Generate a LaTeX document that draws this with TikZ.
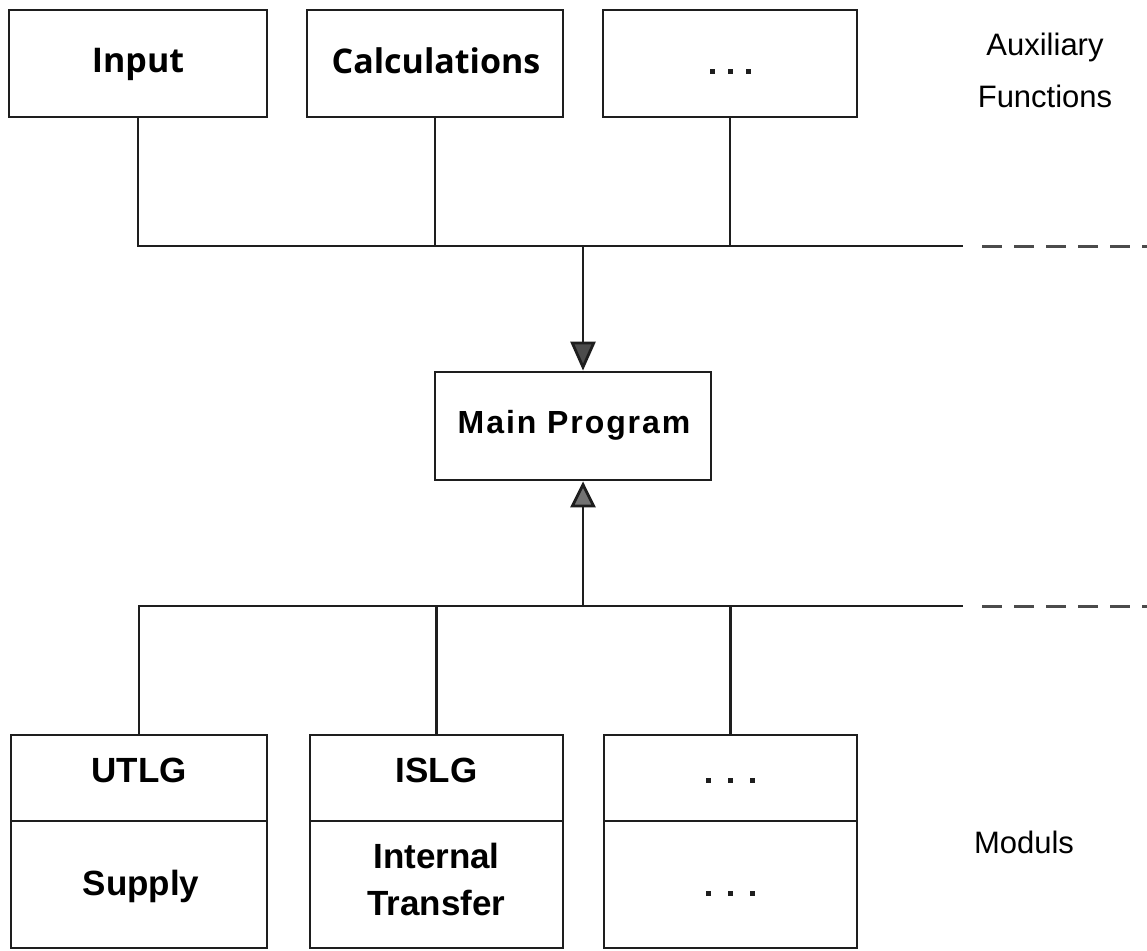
\documentclass[tikz,border=0pt]{standalone}
\usepackage{fontspec}
\setmainfont{Liberation Sans}
\newfontfamily\frut{Open Sans}
\usetikzlibrary{arrows.meta}
\definecolor{ink}{HTML}{1E1E1E}
\tikzset{
  box/.style={draw=ink, line width=2.8pt, rectangle, inner sep=0pt, anchor=center},
  conn/.style={draw=ink, line width=2.8pt},
  dashline/.style={draw=ink!80, line width=3pt, dash pattern=on 20pt off 12pt},
  hv/.style={font=\fontsize{35}{47}\selectfont\bfseries, anchor=base, inner sep=0pt},
  fr/.style={font=\frut\fontsize{34}{40}\selectfont\bfseries, anchor=base, inner sep=0pt},
  lab/.style={font=\fontsize{31}{52}\selectfont, align=center},
  dots/.style={fill=ink, minimum size=5pt, inner sep=0pt, rectangle}
}
\begin{document}
\begin{tikzpicture}[x=1pt,y=-1pt]
\useasboundingbox (0,0) rectangle (1147,950);
% top row
\node[box, minimum width=258pt, minimum height=107pt] (in) at (138,63.5) {};
\node[fr] (inl) at (138,72) {Input};
\node[box, minimum width=256pt, minimum height=107pt] (calc) at (435,63.5) {};
\node[fr] (calcl) at (436,74) {Calculations};
\node[box, minimum width=254pt, minimum height=107pt] (aux) at (730,63.5) {};
\node[dots] (d1) at (712,71) {};
\node[dots] (d2) at (730,71) {};
\node[dots] (d3) at (748,71) {};
\node[lab] (auxlab) at (1045,70) {Auxiliary\\Functions};
% top bus
\coordinate (tbR) at (963,246);
\coordinate (tbD) at (982,246);
\coordinate (tbE) at (1147,246);
\coordinate (tarr) at (583,246);
\draw[conn] (in.south) |- (tbR);
\draw[conn] (calc.south) -- (calc.south |- tbR);
\draw[conn] (aux.south) -- (aux.south |- tbR);
\draw[dashline] (tbD) -- (tbE);
% main
\node[box, minimum width=276pt, minimum height=108pt] (main) at (573,426) {};
\node[hv, font=\fontsize{32}{40}\selectfont\bfseries\addfontfeature{LetterSpace=6}] (mainl) at (574,433) {Main Program};
\draw[conn, -{Triangle[length=29pt,width=25pt,fill=black!70]}] (tarr) -- (tarr |- main.north);
% bottom bus
\coordinate (bbR) at (963,606);
\coordinate (bbD) at (982,606);
\coordinate (bbE) at (1147,606);
\coordinate (barr) at (583,606);
\draw[dashline] (bbD) -- (bbE);
\draw[conn, -{Triangle[length=26pt,width=25pt,fill=black!55]}] (barr) -- (barr |- main.south);
% bottom boxes
\node[box, minimum width=256pt, minimum height=86pt] (utlg) at (139,778) {};
\node[box, minimum width=256pt, minimum height=127pt] (sup) at (139,884.5) {};
\node[box, minimum width=253pt, minimum height=86pt] (islg) at (436.5,778) {};
\node[box, minimum width=253pt, minimum height=127pt] (itr) at (436.5,884.5) {};
\node[box, minimum width=253pt, minimum height=86pt] (m3a) at (730.5,778) {};
\node[box, minimum width=253pt, minimum height=127pt] (m3b) at (730.5,884.5) {};
\node[hv] (utlgl) at (139,782) {UTLG};
\node[hv] (supl) at (141,895) {Supply};
\node[hv] (islgl) at (436.5,782) {ISLG};
\node[hv] (itrl1) at (436.5,868) {Internal};
\node[hv] (itrl2) at (436.5,915) {Transfer};
\node[dots] (e1) at (708,780) {};
\node[dots] (e2) at (730,780) {};
\node[dots] (e3) at (752,780) {};
\node[dots] (f1) at (708,893) {};
\node[dots] (f2) at (730,893) {};
\node[dots] (f3) at (752,893) {};
\node[lab] (modlab) at (1024,842) {Moduls};
\draw[conn] (utlg.north) |- (bbR);
\draw[conn] (islg.north) -- (islg.north |- bbR);
\draw[conn] (m3a.north) -- (m3a.north |- bbR);
\end{tikzpicture}
\end{document}
